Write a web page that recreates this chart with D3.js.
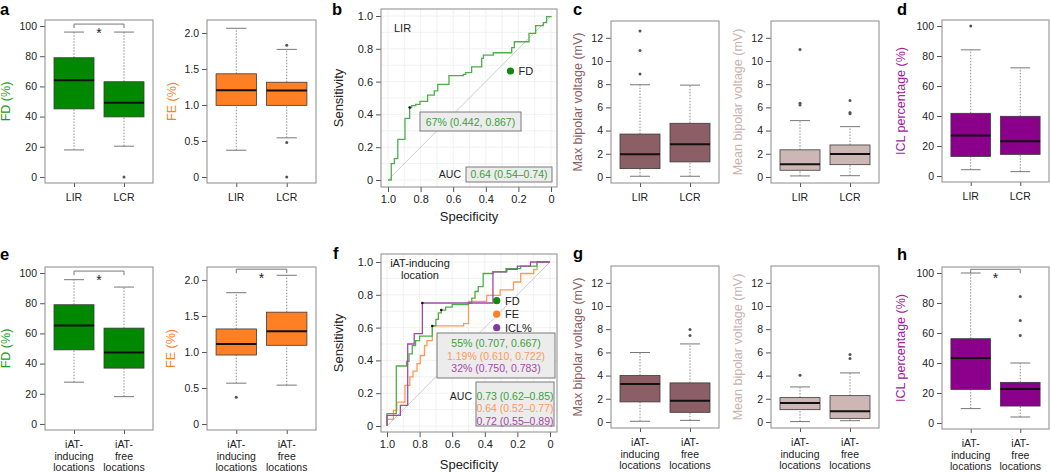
<!DOCTYPE html>
<html><head><meta charset="utf-8">
<script src="https://cdn.jsdelivr.net/npm/d3@7"></script>
<style>
body{margin:0;background:#fff;}
svg{display:block;font-family:"Liberation Sans",Arial,sans-serif;}
</style></head><body>
<svg id="c" width="1050" height="473"></svg>
<script>
// ---------------- DATA ----------------
const catsTop = [["LIR"], ["LCR"]];
const catsBottom = [["iAT-", "inducing", "locations"], ["iAT-", "free", "locations"]];

// box stats per group: [lower whisker, Q1, median, Q3, upper whisker]
const fdTop = [[17.9, 45.1, 64, 79, 96], [20.4, 39.8, 49.1, 63.1, 96]];
const fdTopOut = [[], [0]];
const feTop = [[0.372, 0.995, 1.205, 1.433, 2.065], [0.544, 0.995, 1.2, 1.316, 1.772]];
const feTopOut = [[], [1.828, 0.479, 0]];
const maxTop = [[0.06, 0.72, 1.97, 3.7, 7.95], [0.06, 1.3, 2.83, 4.63, 7.92]];
const maxTopOut = [[8.87, 10.9, 12.58], []];
const meanTop = [[0.09, 0.58, 1.1, 2.34, 4.86], [0.11, 1.06, 1.98, 2.76, 4.34]];
const meanTopOut = [[6.2, 6.36, 10.99], [5.45, 5.55, 6.6]];
const iclTop = [[4.2, 13, 27, 41.8, 84.1], [2.9, 14.4, 23.2, 39.8, 72.1]];
const iclTopOut = [[100], []];

const fdBot = [[27.7, 49.1, 65.3, 79, 95.6], [18.1, 37, 47.3, 63.5, 90.7]];
const fdBotOut = [[], []];
const feBot = [[0.567, 0.958, 1.11, 1.32, 1.823], [0.54, 1.093, 1.288, 1.553, 2.065]];
const feBotOut = [[0.372], []];
const maxBot = [[0.06, 1.73, 3.28, 4.0, 5.99], [0.14, 0.83, 1.84, 3.37, 6.73]];
const maxBotOut = [[], [7.45, 7.97]];
const meanBot = [[0.03, 1.06, 1.64, 2.1, 3.02], [0.11, 0.31, 0.92, 2.27, 4.23]];
const meanBotOut = [[4.03], [5.47, 5.81]];
const iclBot = [[9.6, 22.4, 43.3, 56.2, 100], [4, 11.3, 22.7, 27.1, 40]];
const iclBotOut = [[], [58.4, 68.4, 84.4]];

// tick values
const pctTicks = [0, 20, 40, 60, 80, 100];
const feTicks = [0, 0.5, 1.0, 1.5, 2.0];
const mvTicks = [0, 2, 4, 6, 8, 10, 12];
const rocTicks = [0, 0.2, 0.4, 0.6, 0.8, 1.0];

// ROC curves (specificity, sensitivity) step vertices
const rocLirSpec = [1.0, 0.98, 0.961, 0.94, 0.896, 0.867, 0.855, 0.83, 0.804, 0.757, 0.716, 0.695, 0.626, 0.538, 0.523, 0.487, 0.425, 0.415, 0.354, 0.241, 0.225, 0.135, 0.094, 0.047, 0.027, 0.0];
const rocLirSens = [0, 0.10, 0.13, 0.248, 0.376, 0.442, 0.453, 0.461, 0.48, 0.518, 0.543, 0.583, 0.636, 0.644, 0.655, 0.69, 0.742, 0.762, 0.776, 0.807, 0.843, 0.894, 0.941, 0.96, 0.996, 1.0];

const rocFdSpec = [1.0, 1.0, 0.943, 0.88, 0.865, 0.845, 0.825, 0.8, 0.722, 0.7, 0.685, 0.667, 0.64, 0.6, 0.5, 0.48, 0.46, 0.44, 0.41, 0.35, 0.27, 0.18, 0.08, 0.0];
const rocFdSens = [0, 0.075, 0.366, 0.394, 0.44, 0.49, 0.52, 0.548, 0.61, 0.65, 0.69, 0.707, 0.725, 0.74, 0.75, 0.78, 0.82, 0.85, 0.93, 0.94, 0.96, 0.975, 1.0, 1.0];
const rocFeSpec = [1.0, 1.0, 0.96, 0.94, 0.89, 0.86, 0.84, 0.816, 0.796, 0.77, 0.755, 0.722, 0.53, 0.5, 0.388, 0.306, 0.224, 0.18, 0.1, 0.08, 0.0];
const rocFeSens = [0, 0.04, 0.095, 0.146, 0.248, 0.3, 0.335, 0.38, 0.43, 0.49, 0.52, 0.61, 0.624, 0.76, 0.797, 0.83, 0.878, 0.93, 0.953, 1.0, 1.0];
const rocIclSpec = [1.0, 1.0, 0.918, 0.873, 0.833, 0.783, 0.35, 0.265, 0.2, 0.12, 0.0];
const rocIclSens = [0, 0.065, 0.126, 0.5, 0.563, 0.75, 0.94, 0.955, 0.975, 1.0, 1.0];

// optimal thresholds [spec, sens]
const thrLir = [[0.867, 0.442]];
const thrIat = [[0.667, 0.707], [0.722, 0.610], [0.783, 0.750]];

// ---------------- DRAWING ----------------
const svg = d3.select('#c');
const FONT = '"Liberation Sans", Arial, sans-serif';

function styleAxis(sel) {
  sel.select('.domain').remove();
  sel.selectAll('.tick line').attr('stroke', '#555');
  sel.selectAll('.tick text').attr('fill', '#222').style('font-size', '10.5px').style('font-family', FONT);
}

function boxPanel(o) {
  const g = svg.append('g');
  const y = d3.scaleLinear().domain(o.domain).range([o.b, o.t]);
  const x = d3.scaleLinear().domain([0.42, 2.58]).range([o.l, o.r]);
  g.append('g').attr('transform', `translate(${o.l},0)`)
    .call(d3.axisLeft(y).tickValues(o.ticks).tickFormat(o.fmt).tickSize(5).tickPadding(3)).call(styleAxis);
  g.append('g').attr('transform', `translate(0,${o.b})`)
    .call(d3.axisBottom(x).tickValues([1, 2]).tickFormat('').tickSize(4)).call(styleAxis);
  o.cats.forEach((lines, i) => {
    const t = g.append('text').attr('x', x(i + 1)).attr('y', o.b + 18).attr('text-anchor', 'middle')
      .attr('fill', '#222').style('font-size', '10.5px');
    lines.forEach((s, j) => t.append('tspan').attr('x', x(i + 1)).attr('dy', j === 0 ? 0 : 11.5).text(s));
  });
  o.stats.forEach((s, i) => {
    const c = i + 1;
    const [lo, q1, md, q3, hi] = s;
    [[q3, hi], [lo, q1]].forEach(([a, b]) => {
      g.append('line').attr('x1', x(c)).attr('x2', x(c)).attr('y1', y(a)).attr('y2', y(b))
        .attr('stroke', '#8c8c8c').attr('stroke-dasharray', '1.5,1.5');
    });
    [lo, hi].forEach(v => {
      g.append('line').attr('x1', x(c - 0.2)).attr('x2', x(c + 0.2)).attr('y1', y(v)).attr('y2', y(v))
        .attr('stroke', '#777');
    });
    g.append('rect').attr('x', x(c - 0.4)).attr('y', y(q3)).attr('width', x(c + 0.4) - x(c - 0.4))
      .attr('height', y(q1) - y(q3)).attr('fill', o.fill).attr('stroke', '#3a3a3a').attr('stroke-width', 0.8);
    g.append('line').attr('x1', x(c - 0.4)).attr('x2', x(c + 0.4)).attr('y1', y(md)).attr('y2', y(md))
      .attr('stroke', '#111').attr('stroke-width', 2);
    o.outs[i].forEach(v => {
      g.append('circle').attr('cx', x(c)).attr('cy', y(v)).attr('r', 1.5).attr('fill', '#555');
    });
  });
  g.append('rect').attr('x', o.l).attr('y', o.t).attr('width', o.r - o.l).attr('height', o.b - o.t)
    .attr('fill', 'none').attr('stroke', '#8a8a8a');
  g.append('text').attr('transform', `translate(${o.titleX},${(o.t + o.b) / 2}) rotate(-90)`)
    .attr('text-anchor', 'middle').attr('dy', '0.35em').attr('fill', o.titleColor)
    .style('font-size', '12.5px').text(o.title);
  if (o.bracket !== undefined) {
    const by = y(o.bracket);
    g.append('path').attr('d', `M${x(1)},${by + 4}V${by}H${x(2)}V${by + 4}`)
      .attr('fill', 'none').attr('stroke', '#777');
    g.append('text').attr('x', x(1.5)).attr('y', by + 14).attr('text-anchor', 'middle')
      .attr('fill', '#222').style('font-size', '14px').text('*');
  }
}

const fmtInt = d3.format('d');
const fmtFE = v => v === 0 ? '0' : d3.format('.1f')(v);
const cFD = '#008800', cFE = '#FF7F24', cMax = '#8B5F65', cMean = '#CDB7B5', cICL = '#8B008B';
const tFD = '#1E9B1E', tFE = '#FF7F24', tMax = '#8B5F65', tMean = '#C9B3B0', tICL = '#A020A0';

// Row 1
boxPanel({l: 45, r: 153, t: 20, b: 183, domain: [-4, 104], ticks: pctTicks, fmt: fmtInt, cats: catsTop,
  stats: fdTop, outs: fdTopOut, fill: cFD, title: 'FD (%)', titleColor: tFD, titleX: 6, bracket: 101.3});
boxPanel({l: 207, r: 316, t: 20, b: 183, domain: [-0.083, 2.18], ticks: feTicks, fmt: fmtFE, cats: catsTop,
  stats: feTop, outs: feTopOut, fill: cFE, title: 'FE (%)', titleColor: tFE, titleX: 172});
boxPanel({l: 611, r: 719, t: 21, b: 183, domain: [-0.52, 13.45], ticks: mvTicks, fmt: fmtInt, cats: catsTop,
  stats: maxTop, outs: maxTopOut, fill: cMax, title: 'Max bipolar voltage (mV)', titleColor: tMax, titleX: 578});
boxPanel({l: 771, r: 879, t: 21, b: 183, domain: [-0.52, 13.45], ticks: mvTicks, fmt: fmtInt, cats: catsTop,
  stats: meanTop, outs: meanTopOut, fill: cMean, title: 'Mean bipolar voltage (mV)', titleColor: tMean, titleX: 738});
boxPanel({l: 942, r: 1049, t: 20, b: 182, domain: [-4, 104], ticks: pctTicks, fmt: fmtInt, cats: catsTop,
  stats: iclTop, outs: iclTopOut, fill: cICL, title: 'ICL percentage (%)', titleColor: tICL, titleX: 901});

// Row 2
boxPanel({l: 45, r: 153, t: 267, b: 430, domain: [-4, 104], ticks: pctTicks, fmt: fmtInt, cats: catsBottom,
  stats: fdBot, outs: fdBotOut, fill: cFD, title: 'FD (%)', titleColor: tFD, titleX: 6, bracket: 101.3});
boxPanel({l: 207, r: 316, t: 267, b: 430, domain: [-0.083, 2.18], ticks: feTicks, fmt: fmtFE, cats: catsBottom,
  stats: feBot, outs: feBotOut, fill: cFE, title: 'FE (%)', titleColor: tFE, titleX: 171, bracket: 2.15});
boxPanel({l: 611, r: 719, t: 266, b: 428, domain: [-0.52, 13.45], ticks: mvTicks, fmt: fmtInt, cats: catsBottom,
  stats: maxBot, outs: maxBotOut, fill: cMax, title: 'Max bipolar voltage (mV)', titleColor: tMax, titleX: 578});
boxPanel({l: 771, r: 879, t: 266, b: 428, domain: [-0.52, 13.45], ticks: mvTicks, fmt: fmtInt, cats: catsBottom,
  stats: meanBot, outs: meanBotOut, fill: cMean, title: 'Mean bipolar voltage (mV)', titleColor: tMean, titleX: 738});
boxPanel({l: 942, r: 1049, t: 267, b: 429, domain: [-4, 104], ticks: pctTicks, fmt: fmtInt, cats: catsBottom,
  stats: iclBot, outs: iclBotOut, fill: cICL, title: 'ICL percentage (%)', titleColor: tICL, titleX: 901, bracket: 102.5});

// ROC panels
const lFD = '#4DAF4A', lFE = '#FF9955', lICL = '#A349A4';
function rocPanel(o) {
  const g = svg.append('g');
  const x = d3.scaleLinear().domain([1, 0]).range([o.xs1, o.xs0]);
  const y = d3.scaleLinear().domain([0, 1]).range([o.ys0, o.ys1]);
  d3.range(0, 1.0001, 0.1).forEach(v => {
    g.append('line').attr('x1', x(v)).attr('x2', x(v)).attr('y1', o.t).attr('y2', o.b).attr('stroke', '#eeeeee').attr('stroke-width', 0.8);
    g.append('line').attr('y1', y(v)).attr('y2', y(v)).attr('x1', o.l).attr('x2', o.r).attr('stroke', '#eeeeee').attr('stroke-width', 0.8);
  });
  g.append('line').attr('x1', x(1)).attr('y1', y(0)).attr('x2', x(0)).attr('y2', y(1)).attr('stroke', '#cccccc');
  g.append('g').attr('transform', `translate(${o.l},0)`)
    .call(d3.axisLeft(y).tickValues(rocTicks).tickFormat(fmtFE).tickSize(5).tickPadding(3)).call(styleAxis);
  g.append('g').attr('transform', `translate(0,${o.b})`)
    .call(d3.axisBottom(x).tickValues(rocTicks).tickFormat(fmtFE).tickSize(5).tickPadding(3)).call(styleAxis);
  g.selectAll('.tick text').style('font-size', '11px');
  const line = d3.line().x(d => x(d[0])).y(d => y(d[1])).curve(d3.curveStepAfter);
  o.curves.forEach(c => {
    g.append('path').attr('d', line(d3.zip(c.spec, c.sens))).attr('fill', 'none')
      .attr('stroke', c.color).attr('stroke-width', 1.3);
  });
  o.thr.forEach(p => g.append('circle').attr('cx', x(p[0])).attr('cy', y(p[1])).attr('r', 1.3).attr('fill', '#111'));
  g.append('rect').attr('x', o.l).attr('y', o.t).attr('width', o.r - o.l).attr('height', o.b - o.t)
    .attr('fill', 'none').attr('stroke', '#8a8a8a');
  g.append('text').attr('transform', `translate(338,${(o.t + o.b) / 2}) rotate(-90)`)
    .attr('text-anchor', 'middle').attr('dy', '0.35em').attr('fill', '#222').style('font-size', '13px').text('Sensitivity');
  g.append('text').attr('x', (o.l + o.r) / 2).attr('y', o.specY).attr('text-anchor', 'middle')
    .attr('dy', '0.35em').attr('fill', '#222').style('font-size', '13px').text('Specificity');
  return g;
}

const gb = rocPanel({l: 381, r: 557, t: 9, b: 187, xs1: 388, xs0: 551, ys1: 16, ys0: 180, specY: 216,
  curves: [{spec: rocLirSpec, sens: rocLirSens, color: lFD}], thr: thrLir});
gb.append('text').attr('x', 394).attr('y', 31.5).attr('fill', '#222').style('font-size', '11px').text('LIR');
gb.append('circle').attr('cx', 510.5).attr('cy', 71).attr('r', 3.6).attr('fill', '#118811');
gb.append('text').attr('x', 518.5).attr('y', 75).attr('fill', '#222').style('font-size', '11px').text('FD');
gb.append('rect').attr('x', 420).attr('y', 112).attr('width', 101).attr('height', 19).attr('fill', '#ececec').attr('stroke', '#7a7a7a');
gb.append('text').attr('x', 470.5).attr('y', 125.5).attr('text-anchor', 'middle').attr('fill', '#3A9F3A').style('font-size', '10.5px').text('67% (0.442, 0.867)');
gb.append('text').attr('x', 461).attr('y', 178).attr('text-anchor', 'end').attr('fill', '#222').style('font-size', '10.5px').text('AUC');
gb.append('rect').attr('x', 466).attr('y', 167).attr('width', 86).attr('height', 15).attr('fill', '#ececec').attr('stroke', '#7a7a7a');
gb.append('text').attr('x', 509).attr('y', 178).attr('text-anchor', 'middle').attr('fill', '#3A9F3A').style('font-size', '10.5px').text('0.64 (0.54–0.74)');

const gf = rocPanel({l: 381, r: 557, t: 254, b: 432, xs1: 387, xs0: 550, ys1: 262, ys0: 426, specY: 464,
  curves: [{spec: rocFeSpec, sens: rocFeSens, color: lFE}, {spec: rocFdSpec, sens: rocFdSens, color: lFD},
           {spec: rocIclSpec, sens: rocIclSens, color: lICL}], thr: thrIat});
gf.append('text').attr('x', 420).attr('y', 267).attr('text-anchor', 'middle').attr('fill', '#222').style('font-size', '11px').text('iAT-inducing');
gf.append('text').attr('x', 420).attr('y', 279).attr('text-anchor', 'middle').attr('fill', '#222').style('font-size', '11px').text('location');
const legNames = ['FD', 'FE', 'ICL%'];
const legDots = ['#118811', '#FF7F24', '#7E3C9E'];
legNames.forEach((n, i) => {
  const cy = 300.7 + i * 13.5;
  gf.append('circle').attr('cx', 496.7).attr('cy', cy).attr('r', 3.6).attr('fill', legDots[i]);
  gf.append('text').attr('x', 505).attr('y', cy + 4).attr('fill', '#222').style('font-size', '11px').text(n);
});
const thrLabels = ['55% (0.707, 0.667)', '1.19% (0.610, 0.722)', '32% (0.750, 0.783)'];
const aucLabels = ['0.73 (0.62–0.85)', '0.64 (0.52–0.77)', '0.72 (0.55–0.89)'];
const txtCols = ['#3A9F3A', '#FF9955', '#A349A4'];
gf.append('rect').attr('x', 437).attr('y', 333).attr('width', 118).attr('height', 45).attr('fill', '#ececec').attr('stroke', '#7a7a7a');
thrLabels.forEach((s, i) => gf.append('text').attr('x', 496).attr('y', 347 + i * 12.5).attr('text-anchor', 'middle')
  .attr('fill', txtCols[i]).style('font-size', '10.5px').text(s));
gf.append('text').attr('x', 472).attr('y', 399.5).attr('text-anchor', 'end').attr('fill', '#222').style('font-size', '10.5px').text('AUC');
gf.append('rect').attr('x', 476).attr('y', 382).attr('width', 78).attr('height', 44).attr('fill', '#ececec').attr('stroke', '#7a7a7a');
aucLabels.forEach((s, i) => gf.append('text').attr('x', 515).attr('y', 399.5 + i * 12.5).attr('text-anchor', 'middle')
  .attr('fill', txtCols[i]).style('font-size', '10.5px').text(s));

// panel letters
const letters = [['a', 0, 15], ['b', 332, 15], ['c', 573, 15], ['d', 897, 15], ['e', 0, 260], ['f', 333, 259], ['g', 573, 259], ['h', 897, 260]];
letters.forEach(([t, x, y]) => svg.append('text').attr('x', x).attr('y', y).attr('fill', '#000')
  .style('font-size', '16.5px').style('font-weight', 'bold').text(t));
</script>
</body></html>
